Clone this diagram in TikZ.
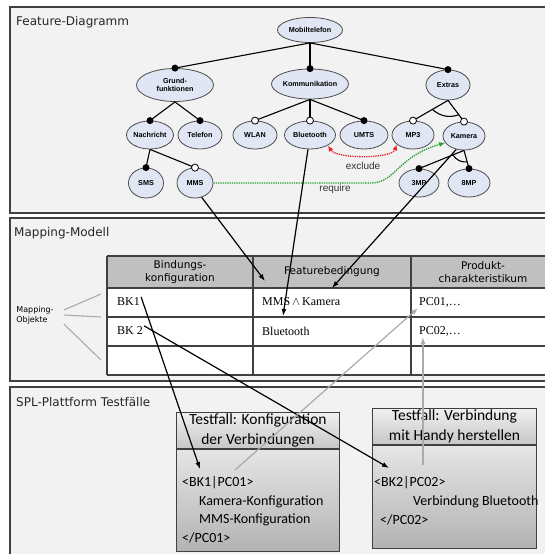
\documentclass[tikz,border=0pt]{standalone}
\usepackage{fontspec}
\setmainfont{Liberation Serif}
\newfontfamily\titlefont{DejaVu Sans}
\newfontfamily\featfont{Liberation Sans}
\newfontfamily\casefont{Carlito}
\usetikzlibrary{shapes.geometric,arrows.meta,calc}
\definecolor{panelgray}{HTML}{F2F2F2}
\definecolor{framegray}{HTML}{404040}
\definecolor{featblue}{HTML}{E0E6F4}
\definecolor{headgray}{HTML}{C0C0C0}
\definecolor{linkgray}{HTML}{ABABAB}
\definecolor{exred}{HTML}{E8202A}
\definecolor{reqgreen}{HTML}{22A030}
\tikzset{
  panel/.style={fill=panelgray, draw=framegray, line width=1.1pt},
  paneltitle/.style={anchor=west, inner sep=1pt, text=black!85, font=\titlefont\fontsize{12}{14}\selectfont},
  feat/.style={ellipse, draw=black!70, fill=featblue, line width=0.8pt, inner sep=0pt, align=center,
    font=\featfont\bfseries\fontsize{7.2}{8.5}\selectfont},
  mandot/.style={circle, fill=black, inner sep=0pt, minimum size=7pt},
  optdot/.style={circle, draw=black, fill=white, line width=0.8pt, inner sep=0pt, minimum size=7pt},
  tree/.style={line width=1.1pt},
  grid/.style={draw=framegray, line width=1.1pt},
  headtext/.style={align=center, font=\titlefont\fontsize{10.5}{12.5}\selectfont},
  celltext/.style={anchor=west, inner sep=1pt, font=\fontsize{12}{14}\selectfont},
  maplink/.style={draw=linkgray, line width=1.1pt},
  maparrow/.style={-{Latex[length=7pt,width=5pt]}, line width=1.2pt},
  backarrow/.style={-{Latex[length=7pt,width=5pt]}, draw=linkgray, line width=1.2pt},
  casehead/.style={draw=framegray, line width=0.9pt, top color=white!94!black, bottom color=black!22,
    anchor=north west, align=center, inner sep=0pt, font=\casefont\fontsize{15.5}{19.5}\selectfont},
  casebody/.style={draw=framegray, line width=0.9pt, top color=white!90!black, bottom color=black!30,
    anchor=north, inner sep=0pt},
  casetext/.style={anchor=west, inner sep=0pt, font=\casefont\fontsize{14}{17}\selectfont},
  constrtext/.style={font=\featfont\fontsize{10}{11}\selectfont, text=black!80}
}
\begin{document}
\begin{tikzpicture}[x=1pt, y=-1pt]
  \useasboundingbox (0,0) rectangle (545,554);
  \fill[white] (0,0) rectangle (545,554);

  % three panels
  \draw[panel] (10,7) rectangle (560,213);
  \draw[panel] (10,218) rectangle (560,381);
  \draw[panel] (10,387) rectangle (560,570);
  \node[paneltitle] (ftitle) at (15,22) {Feature-Diagramm};
  \node[paneltitle] (mtitle) at (13,233) {Mapping-Modell};
  \node[paneltitle] (stitle) at (15,402) {SPL-Plattform Testfälle};

  % feature diagram
  \node[feat, minimum width=65, minimum height=25] (mobil) at (310,30) {Mobiltelefon};
  \node[feat, minimum width=77, minimum height=33] (grund) at (175,85) {Grund-\\funktionen};
  \node[feat, minimum width=77, minimum height=30] (komm) at (310,84) {Kommunikation};
  \node[feat, minimum width=44, minimum height=30] (extras) at (448,85) {Extras};
  \node[feat, minimum width=45, minimum height=28] (nachricht) at (150,135) {Nachricht};
  \node[feat, minimum width=44, minimum height=28] (telefon) at (200,135) {Telefon};
  \node[feat, minimum width=44, minimum height=28] (wlan) at (255,135) {WLAN};
  \node[feat, minimum width=51, minimum height=28] (bt) at (310,135) {Bluetooth};
  \node[feat, minimum width=48, minimum height=28] (umts) at (364,135) {UMTS};
  \node[feat, minimum width=42, minimum height=28] (mp3) at (413,135) {MP3};
  \node[feat, minimum width=42, minimum height=28] (kamera) at (464,136) {Kamera};
  \node[feat, minimum width=35, minimum height=30] (sms) at (146,183) {SMS};
  \node[feat, minimum width=36, minimum height=30] (mms) at (195,183) {MMS};
  \node[feat, minimum width=40, minimum height=28] (threemp) at (419,183) {3MP};
  \node[feat, minimum width=42, minimum height=28] (eightmp) at (469,183) {8MP};

  \foreach \p/\c/\t in {mobil/grund/mandot, mobil/komm/mandot, mobil/extras/mandot,
      grund/nachricht/mandot, grund/telefon/mandot, komm/wlan/optdot, komm/bt/optdot,
      komm/umts/mandot, extras/mp3/optdot, extras/kamera/optdot, nachricht/sms/mandot,
      nachricht/mms/optdot, kamera/threemp/mandot, kamera/eightmp/mandot}
    \draw[tree] (\p.south) -- (\c.north) node[\t] {};

  % alternative groups
  \draw[tree] ($(extras.south)!18pt!(mp3.north)$) to[bend right=30] ($(extras.south)!18pt!(kamera.north)$);
  \draw[tree] ($(kamera.south)!12pt!(threemp.north)$) to[bend right=30] ($(kamera.south)!12pt!(eightmp.north)$);

  % cross-tree constraints
  \draw[exred, densely dotted, line width=1.3pt, {Latex[length=6pt,width=5pt]}-{Latex[length=6pt,width=5pt]}]
    (bt.-30) .. controls (336,159) and (392,159) .. (mp3.-150);
  \node[constrtext] (excl) at (363,166) {exclude};
  \draw[reqgreen, densely dotted, line width=1.3pt, -{Latex[length=6pt,width=5pt]}]
    (mms.east) -- (372,183) .. controls (396,182) and (398,156) .. (kamera.200);
  \node[constrtext] (req) at (335,189) {require};

  % mapping table
  \fill[headgray] (107,256) rectangle (560,288);
  \fill[white] (107,288) rectangle (560,375);
  \foreach \y in {256,288,317,346,375}
    \draw[grid] (107,\y) -- (560,\y);
  \foreach \x in {107,253,411}
    \draw[grid] (\x,256) -- (\x,375);
  \node[headtext] (hbind) at (180,272) {Bindungs-\\konfiguration};
  \node[headtext] (hfeat) at (332,272) {Featurebedingung};
  \node[headtext] (hprod) at (483,272) {Produkt-\\charakteristikum};
  \node[celltext] (bk1) at (116,302) {BK1};
  \node[celltext] (fb1) at (261,302) {MMS\,$\wedge$\,Kamera};
  \node[celltext] (pc1) at (418,302) {PC01,\ldots};
  \node[celltext] (bk2) at (116,331) {BK 2};
  \node[celltext] (fb2) at (261,331) {Bluetooth};
  \node[celltext] (pc2) at (418,331) {PC02,\ldots};

  \node[align=left, inner sep=0pt, font=\titlefont\fontsize{8}{10}\selectfont] (mapobj) at (35,315) {Mapping-\\Objekte};
  \coordinate (mo1) at (101,294);
  \coordinate (mo2) at (101,317);
  \coordinate (mo3) at (101,360);
  \draw[maplink] ([shift={(10,-5)}]mapobj.east) -- (mo1);
  \draw[maplink] ([xshift=10]mapobj.east) -- (mo2);
  \draw[maplink] ([shift={(10,9)}]mapobj.east) -- (mo3);

  % test cases
  \node[casehead, minimum width=163, minimum height=36] (tf1head) at (176,412) {Testfall: Konfiguration\\der Verbindungen};
  \node[casebody, minimum width=163, minimum height=102] (tf1body) at (tf1head.south) {};
  \node[casehead, minimum width=164, minimum height=36] (tf2head) at (372,408) {Testfall: Verbindung\\mit Handy herstellen};
  \node[casebody, minimum width=164, minimum height=103] (tf2body) at (tf2head.south) {};

  \node[casetext] (tf1a) at (182,483) {<BK1|PC01>};
  \node[casetext] (tf1b) at (199,502) {Kamera-Konfiguration};
  \node[casetext] (tf1c) at (199,520) {MMS-Konfiguration};
  \node[casetext] (tf1d) at (182,538) {</PC01>};
  \node[casetext] (tf2a) at (374,483) {<BK2|PC02>};
  \node[casetext] (tf2b) at (413,502) {Verbindung Bluetooth};
  \node[casetext] (tf2c) at (380,520) {</PC02>};

  % connectors between the levels
  \coordinate (fbmms) at (265,281);
  \coordinate (fbkam) at (332,288);
  \coordinate (fbbt) at (283,316);
  \coordinate (tf1in) at (200,469);
  \coordinate (tf2in) at (389,468);
  \coordinate (tf1out) at (235,470);
  \coordinate (tf2out) at (423,465);
  \draw[maparrow] (mms.-65) -- (fbmms);
  \draw[maparrow] (bt.262) -- (fbbt);
  \draw[maparrow] (kamera.240) -- (fbkam);
  \draw[maparrow] (bk1.north east) -- (tf1in);
  \draw[maparrow] (bk2.north east) -- (tf2in);
  \draw[backarrow] (tf1out) -- (pc1.south west);
  \draw[backarrow] (tf2out) -- (tf2out |- pc2.south);
\end{tikzpicture}
\end{document}
